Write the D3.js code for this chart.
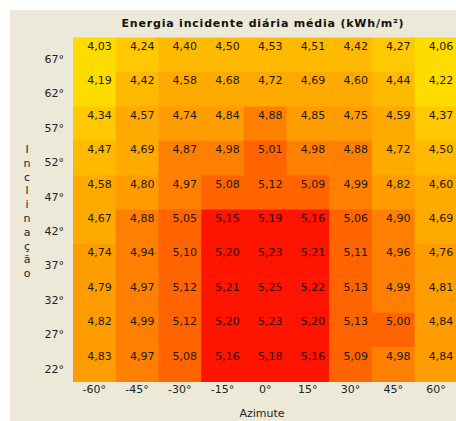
<!DOCTYPE html>
<html lang="pt">
<head>
    <meta charset="UTF-8"/>
    <title>Energia incidente diária média</title>
    <script src="https://d3js.org/d3.v7.min.js"></script>
    <style>
        body, html {
            margin: 0;
            padding: 0;
            background: #fff;
            font-family: "DejaVu Sans", Verdana, sans-serif;
            overflow: hidden;
        }
        svg { display: block; }
        .tick text { font-size: 11px; fill: #222; }
    </style>
</head>
<body>
<svg class="chart" width="456" height="421"></svg>
<script>
    // data
    const azimutes = [-60, -45, -30, -15, 0, 15, 30, 45, 60];
    const inclinacoes = [67, 62, 57, 52, 47, 42, 37, 32, 27, 22];
    const r67 = [4.03, 4.24, 4.40, 4.50, 4.53, 4.51, 4.42, 4.27, 4.06];
    const r62 = [4.19, 4.42, 4.58, 4.68, 4.72, 4.69, 4.60, 4.44, 4.22];
    const r57 = [4.34, 4.57, 4.74, 4.84, 4.88, 4.85, 4.75, 4.59, 4.37];
    const r52 = [4.47, 4.69, 4.87, 4.98, 5.01, 4.98, 4.88, 4.72, 4.50];
    const r47 = [4.58, 4.80, 4.97, 5.08, 5.12, 5.09, 4.99, 4.82, 4.60];
    const r42 = [4.67, 4.88, 5.05, 5.15, 5.19, 5.16, 5.06, 4.90, 4.69];
    const r37 = [4.74, 4.94, 5.10, 5.20, 5.23, 5.21, 5.11, 4.96, 4.76];
    const r32 = [4.79, 4.97, 5.12, 5.21, 5.25, 5.22, 5.13, 4.99, 4.81];
    const r27 = [4.82, 4.99, 5.12, 5.20, 5.23, 5.20, 5.13, 5.00, 4.84];
    const r22 = [4.83, 4.97, 5.08, 5.16, 5.18, 5.16, 5.09, 4.98, 4.84];
    const linhas = [r67, r62, r57, r52, r47, r42, r37, r32, r27, r22];

    // colour classes
    const limites = [4.23, 4.39, 4.555, 4.73, 4.86, 4.995, 5.14];
    const cores = ["#ffdc00", "#ffc800", "#ffb900", "#ffaa00", "#ff9c00", "#ff8000", "#ff6400", "#ff1400"];

    const titulo = "Energia incidente diária média (kWh/m²)";

    const svg = d3.select(".chart");

    // panel
    svg.append("rect")
        .attr("x", 10).attr("y", 10)
        .attr("width", 446).attr("height", 411)
        .attr("fill", "#ece9d8");

    const x = d3.scaleBand().domain(azimutes).range([73, 73 + 42.7 * 9]);
    const y = d3.scaleBand().domain(inclinacoes).range([37.5, 381.5]);
    const cor = d3.scaleThreshold().domain(limites).range(cores);

    const celulas = [];
    linhas.forEach((linha, i) => {
        linha.forEach((v, j) => {
            celulas.push({inc: inclinacoes[i], az: azimutes[j], v: v});
        });
    });

    svg.append("g").selectAll("rect")
        .data(celulas)
        .join("rect")
        .attr("x", d => x(d.az))
        .attr("y", d => y(d.inc))
        .attr("width", x.bandwidth() + 0.5)
        .attr("height", y.bandwidth() + 0.5)
        .attr("fill", d => cor(d.v));

    const fmt = d3.format(".2f");
    svg.append("g").selectAll("text")
        .data(celulas)
        .join("text")
        .attr("x", d => x(d.az) + x.bandwidth() - 4)
        .attr("y", d => y(d.inc) + 12.5)
        .attr("text-anchor", "end")
        .attr("font-size", 11)
        .attr("fill", d => d.v >= 5.14 ? "#2a0000" : "#1a1a1a")
        .text(d => fmt(d.v).replace(".", ","));

    // axes
    const eixoX = svg.append("g")
        .attr("transform", "translate(0,381.7)")
        .call(d3.axisBottom(x).tickSize(0).tickPadding(3.5).tickFormat(d => d + "°"));
    eixoX.select(".domain").remove();

    const eixoY = svg.append("g")
        .attr("transform", "translate(73,4.8)")
        .call(d3.axisLeft(y).tickSize(0).tickPadding(9).tickFormat(d => d + "°"));
    eixoY.select(".domain").remove();

    svg.selectAll(".tick text").attr("font-family", "DejaVu Sans, Verdana, sans-serif");

    // title
    svg.append("text")
        .attr("x", 263).attr("y", 27)
        .attr("text-anchor", "middle")
        .attr("font-size", 11)
        .attr("font-weight", "bold")
        .attr("letter-spacing", 0.8)
        .attr("fill", "#111")
        .text(titulo);

    svg.append("text")
        .attr("x", 262).attr("y", 417)
        .attr("text-anchor", "middle")
        .attr("font-size", 11)
        .attr("fill", "#222")
        .text("Azimute");

    // vertical label, one letter per line
    svg.append("g").selectAll("text")
        .data("Inclinação".split(""))
        .join("text")
        .attr("x", 27)
        .attr("y", (d, i) => 153 + i * 13.8)
        .attr("text-anchor", "middle")
        .attr("font-size", 11)
        .attr("fill", "#222")
        .text(d => d);
</script>
</body>
</html>
